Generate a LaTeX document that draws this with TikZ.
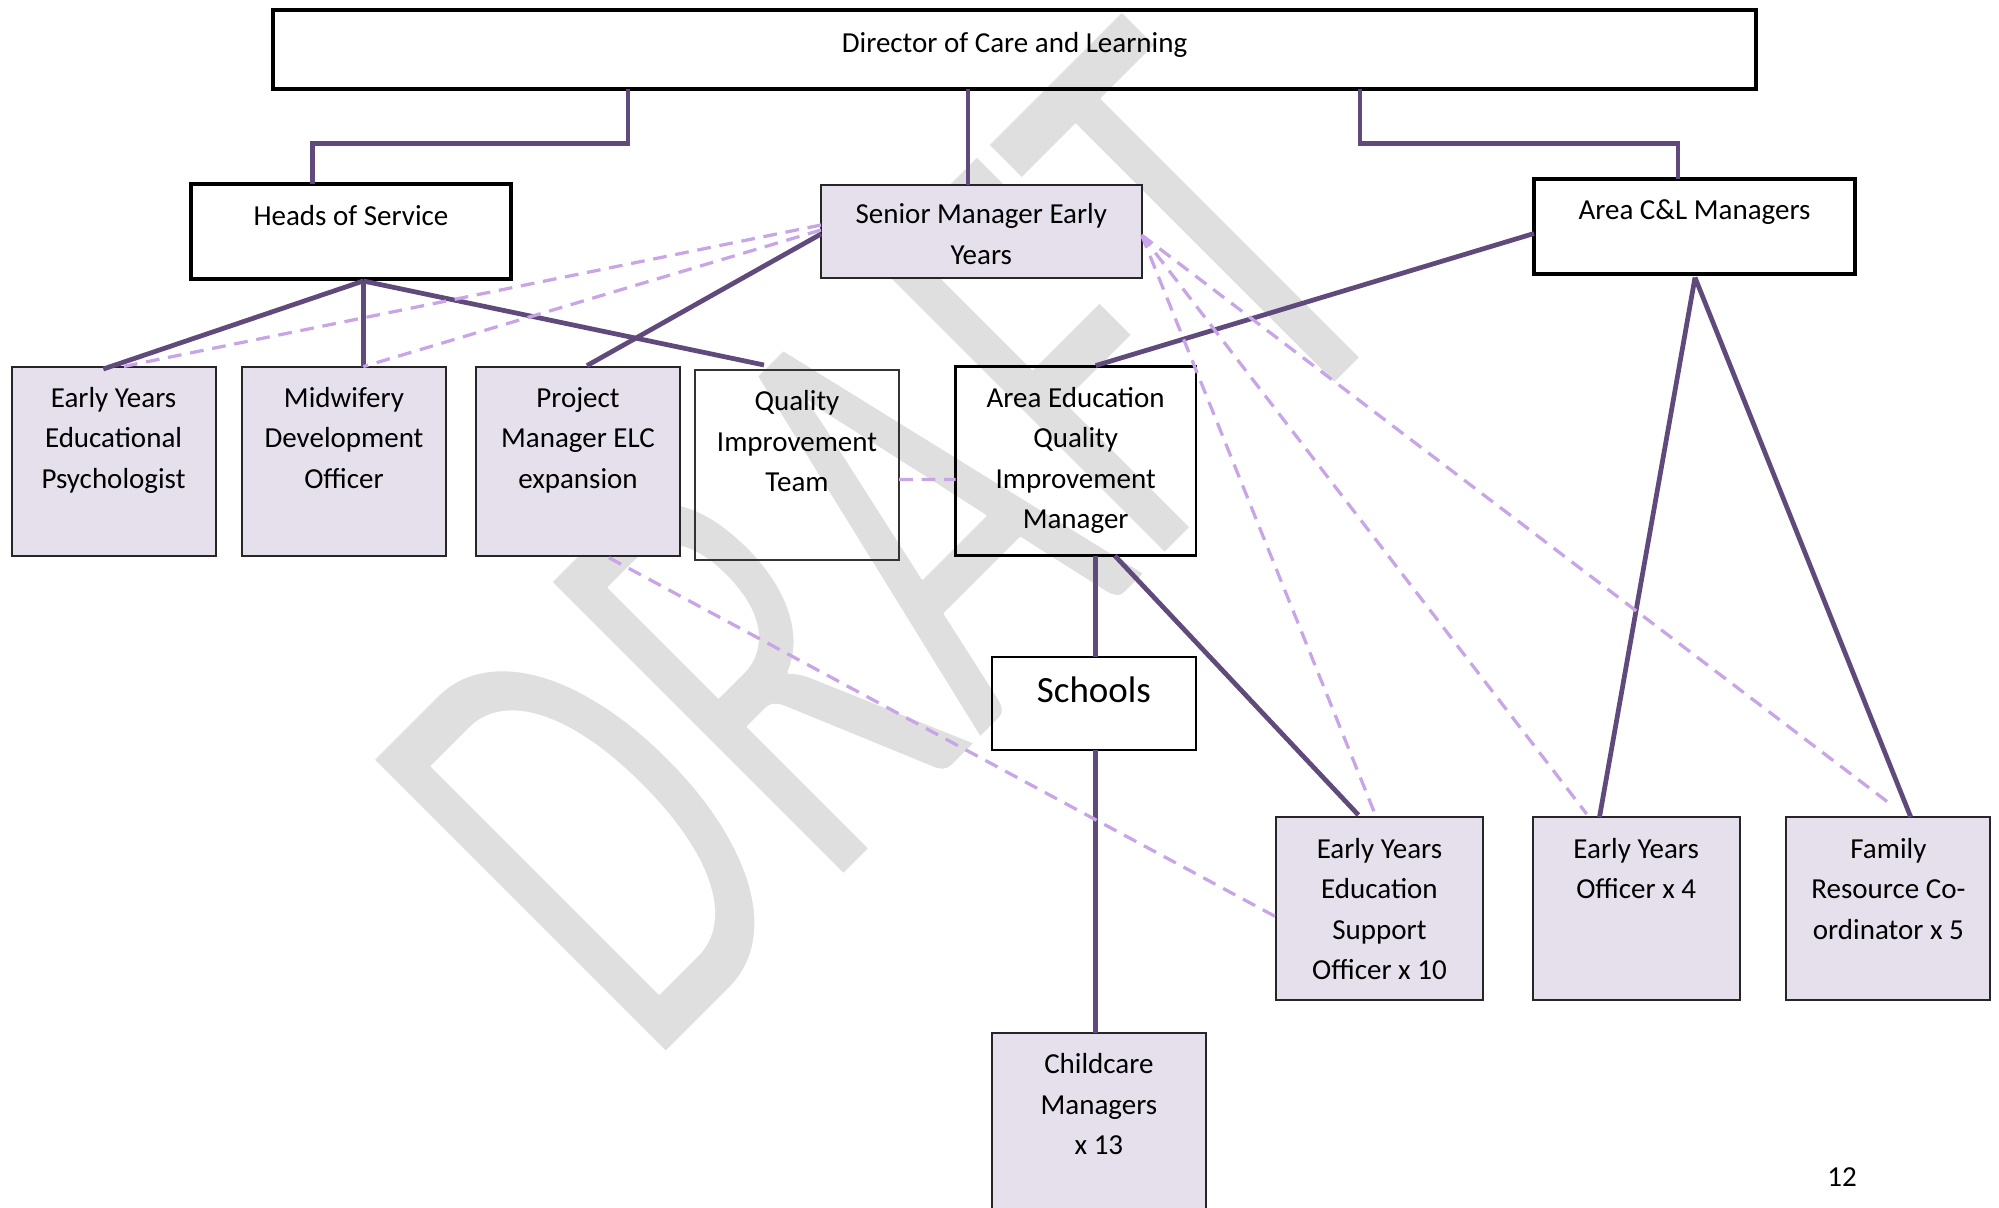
\documentclass[tikz,border=0pt]{standalone}
\usepackage{fontspec}
\setmainfont{Carlito}
\usetikzlibrary{calc}
\definecolor{connc}{HTML}{604A7B}
\definecolor{dashc}{RGB}{200,165,230}
\definecolor{lav}{HTML}{E5E0EC}
\definecolor{wmark}{RGB}{223,223,223}
\newdimen\pxu \pxu=0.4pt
\newcommand{\boxtext}[4]{\parbox[c][#2\pxu][t]{#1\pxu}{\centering\rule{0pt}{#3\pxu}#4\par}}
\tikzset{
  orgbox/.style={draw=black, inner sep=0pt, outer sep=0pt, anchor=north west, line width=1.2pt},
  lavbox/.style={orgbox, fill=lav, draw=black!85, line width=0.8pt},
  thinbox/.style={orgbox, draw=black!80, line width=0.8pt},
  conn/.style={draw=connc, line width=1.9pt},
  dotconn/.style={draw=dashc, line width=1.3pt, dash pattern=on 5.5pt off 3.5pt},
}
\begin{document}
\begin{tikzpicture}[x=0.4pt, y=-0.4pt, every node/.style={font=\fontsize{11.6pt}{16.24pt}\selectfont}]
\useasboundingbox (0,0) rectangle (1999,1207);
% watermark
\begin{scope}[shift={(646.5,1071.6)}, rotate=45, xscale=0.63]
\node[transform shape, anchor=base west, inner sep=0pt, outer sep=0pt, text=wmark, font=\fontsize{258pt}{260pt}\selectfont] (wm) at (0,0) {\special{pdf:literal direct 2 Tr 1 1 1 RG 1 w 1 j}DRAFT\special{pdf:literal direct 0 Tr}};
\end{scope}
% boxes
\node[orgbox, line width=1.3pt] (dir) at (273,10) {\boxtext{1483}{79}{42.6}{Director of Care and Learning}};
\node[orgbox, line width=1.3pt] (hos) at (191,184) {\boxtext{320}{95}{41}{Heads of Service}};
\node[lavbox] (sme) at (821,184.5) {\boxtext{320.6}{93.5}{39}{Senior Manager Early\\Years}};
\node[orgbox, line width=1.3pt] (acl) at (1534,179) {\boxtext{321}{95}{40}{Area C\&L Managers}};
\node[lavbox] (eyep) at (11.5,366.6) {\boxtext{204.1}{189.1}{40.5}{Early Years\\Educational\\Psychologist}};
\node[lavbox] (mdo) at (242,366.6) {\boxtext{204}{189.1}{40.5}{Midwifery\\Development\\Officer}};
\node[lavbox] (pm) at (476,366.6) {\boxtext{204}{189.1}{40.5}{Project\\Manager ELC\\expansion}};
\node[thinbox] (qit) at (695,370) {\boxtext{204}{189.5}{40.5}{Quality\\Improvement\\Team}};
\node[orgbox, line width=1.0pt] (aeqim) at (955.5,366.6) {\boxtext{240.3}{189.1}{40.5}{Area Education\\Quality\\Improvement\\Manager}};
\node[orgbox, line width=0.9pt] (schools) at (992,657) {\boxtext{203.8}{93}{45.5}{\fontsize{14.8pt}{20pt}\selectfont Schools}};
\node[lavbox] (ccm) at (992,1033) {\boxtext{213.8}{220}{40.7}{Childcare\\Managers\\x 13}};
\node[lavbox] (eyeso) at (1275.5,817) {\boxtext{207.9}{182.6}{41}{Early Years\\Education\\Support\\Officer x 10}};
\node[lavbox] (eyo) at (1532.5,817) {\boxtext{207.3}{182.6}{41}{Early Years\\Officer x 4}};
\node[lavbox] (frc) at (1786.4,817) {\boxtext{204}{182.6}{41}{Family\\Resource Co-\\ordinator x 5}};
\node[anchor=base, inner sep=0pt] (pg) at (1842,1186.8) {12};
% solid connectors
\draw[conn] ($(dir.south west)+(355,0)$) -- ++(0,54.5) -| ($(hos.north west)+(121.5,0)$);
\draw[conn] ($(dir.south west)+(695,0)$) -- ($(sme.north west)+(147,0)$);
\draw[conn] ($(dir.south west)+(1087,0)$) -- ++(0,54.5) -| ($(acl.north west)+(144,0)$);
\draw[conn] ($(hos.south west)+(172.3,2)$) -- ($(eyep.north west)+(91.8,2.4)$);
\draw[conn] ($(hos.south west)+(172.3,2)$) -- ($(mdo.north west)+(121.3,0)$);
\draw[conn] ($(hos.south west)+(172.3,2)$) -- ($(qit.north west)+(69,-5)$);
\draw[conn] ($(sme.north west)+(0,49.5)$) -- ($(pm.north west)+(111,-1)$);
\draw[conn] ($(acl.north west)+(0,54.5)$) -- ($(aeqim.north west)+(140.2,-1)$);
\draw[conn] ($(aeqim.south west)+(140.2,0)$) -- ($(schools.north west)+(103.7,0)$);
\draw[conn] ($(schools.south west)+(103.7,0)$) -- ($(ccm.north west)+(103.7,0)$);
\draw[conn] ($(aeqim.south west)+(159.3,0)$) -- ($(eyeso.north west)+(82.9,-2)$);
\draw[conn] ($(acl.south west)+(161,3.5)$) -- ($(eyo.north west)+(67,0)$);
\draw[conn] ($(acl.south west)+(161,3.5)$) -- ($(frc.north west)+(124.3,0)$);
% dashed connectors
\draw[dotconn] ($(sme.north west)+(0,40.5)$) -- ($(eyep.north west)+(111.5,0)$);
\draw[dotconn] ($(sme.north west)+(0,45.5)$) -- ($(mdo.north west)+(121.3,0)$);
\draw[dotconn] ($(qit.north east)+(0,109.5)$) -- ($(aeqim.north west)+(0,113)$);
\draw[dotconn] ($(pm.south west)+(133,2)$) -- ($(eyeso.north west)+(0,99.6)$);
\draw[dotconn] ($(sme.north east)+(0,50.5)$) -- ($(eyeso.north west)+(99.5,-3)$);
\draw[dotconn] ($(sme.north east)+(0,50.5)$) -- ($(eyo.north west)+(54.2,-3)$);
\draw[dotconn] ($(sme.north east)+(0,50.5)$) -- ($(frc.north west)+(106.6,-11)$);
\end{tikzpicture}
\end{document}
